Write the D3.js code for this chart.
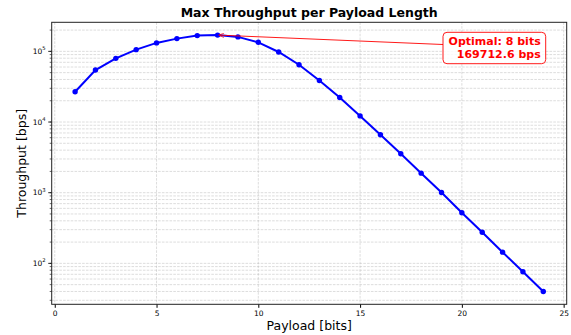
<!DOCTYPE html>
<html>
<head>
<meta charset="utf-8">
<script src="https://cdn.jsdelivr.net/npm/d3@7"></script>
<style>
  body { margin: 0; background: #fff; }
  svg { font-family: "DejaVu Sans", sans-serif; }
</style>
</head>
<body>
<svg id="chart" width="571" height="335"></svg>
<script>
// payload length in bits
const payloadBits = [1, 2, 3, 4, 5, 6, 7, 8, 9, 10, 11, 12, 13, 14, 15, 16, 17, 18, 19, 20, 21, 22, 23, 24];
// max throughput (bps)
const throughput = [26800, 54400, 79600, 105700, 131600, 151400, 167000, 169712.6, 160200, 134200,
  98000, 64700, 38700, 22200, 12200, 6620, 3560, 1890, 1007, 521, 275, 144, 76, 40];
const xTicks = [0, 5, 10, 15, 20, 25];
const yTickExps = [2, 3, 4, 5];
const optimalBits = 8;
const optimalValue = 169712.6;

const width = 571, height = 335;
const margin = { top: 22.3, right: 4.3, bottom: 30.7, left: 51.7 };
const svg = d3.select("#chart");

const data = payloadBits.map((b, i) => ({ x: b, y: throughput[i] }));

// matplotlib-like 5% margins
const xPad = (d3.max(payloadBits) - d3.min(payloadBits)) * 0.05;
const x = d3.scaleLinear()
  .domain([d3.min(payloadBits) - xPad, d3.max(payloadBits) + xPad])
  .range([margin.left, width - margin.right]);

const lmin = Math.log10(d3.min(throughput)), lmax = Math.log10(d3.max(throughput));
const lPad = (lmax - lmin) * 0.05;
const y = d3.scaleLog()
  .domain([Math.pow(10, lmin - lPad), Math.pow(10, lmax + lPad)])
  .range([height - margin.bottom, margin.top]);

const [y0, y1] = y.domain();
const minorTicks = [];
for (let e = Math.floor(Math.log10(y0)); e <= Math.ceil(Math.log10(y1)); e++) {
  for (let m = 1; m < 10; m++) {
    const v = m * Math.pow(10, e);
    if (v >= y0 && v <= y1) minorTicks.push(v);
  }
}

// grid
const grid = svg.append("g").attr("class", "grid")
  .attr("stroke", "#b0b0b0").attr("stroke-opacity", 0.55)
  .attr("stroke-width", 0.8).attr("stroke-dasharray", "2.6,1.2");
grid.selectAll("line.h").data(minorTicks).join("line")
  .attr("x1", margin.left).attr("x2", width - margin.right)
  .attr("y1", d => y(d)).attr("y2", d => y(d));
grid.selectAll("line.v").data(xTicks).join("line")
  .attr("y1", margin.top).attr("y2", height - margin.bottom)
  .attr("x1", d => x(d)).attr("x2", d => x(d));

// axes
const xAxis = svg.append("g")
  .attr("transform", `translate(0,${height - margin.bottom})`)
  .call(d3.axisBottom(x).tickValues(xTicks).tickSize(3.5).tickPadding(3).tickFormat(d3.format("d")));
xAxis.select(".domain").remove();
xAxis.selectAll("text").attr("font-size", 7.5).attr("fill", "#000").attr("font-family", "DejaVu Sans");

const yAxis = svg.append("g").attr("transform", `translate(${margin.left},0)`);
yAxis.selectAll("line.minor").data(minorTicks).join("line")
  .attr("x1", 0).attr("x2", -2).attr("y1", d => y(d)).attr("y2", d => y(d))
  .attr("stroke", "#000").attr("stroke-width", 0.6);
yAxis.selectAll("line.major").data(yTickExps).join("line")
  .attr("x1", 0).attr("x2", -3.5).attr("y1", d => y(Math.pow(10, d))).attr("y2", d => y(Math.pow(10, d)))
  .attr("stroke", "#000").attr("stroke-width", 0.8);
const yl = yAxis.selectAll("text.lab").data(yTickExps).join("text")
  .attr("x", -6).attr("y", d => y(Math.pow(10, d)) + 2.6)
  .attr("text-anchor", "end").attr("font-size", 7.5).attr("fill", "#000");
yl.append("tspan").text("10");
yl.append("tspan").attr("dy", -3.5).attr("font-size", 5.3).text(d => d);

// frame
svg.append("rect")
  .attr("x", margin.left).attr("y", margin.top)
  .attr("width", width - margin.left - margin.right)
  .attr("height", height - margin.top - margin.bottom)
  .attr("fill", "none").attr("stroke", "#222").attr("stroke-width", 1);

// line + markers
svg.append("path").datum(data)
  .attr("fill", "none").attr("stroke", "#0000ff").attr("stroke-width", 2)
  .attr("d", d3.line().x(d => x(d.x)).y(d => y(d.y)));
svg.append("g").selectAll("circle").data(data).join("circle")
  .attr("cx", d => x(d.x)).attr("cy", d => y(d.y)).attr("r", 2.7).attr("fill", "#0000ff");

// annotation
const px = x(optimalBits), py = y(optimalValue);
const boxX = 443, boxY = 32.3, boxW = 102.7, boxH = 31.4;
svg.append("defs").append("marker")
  .attr("id", "arr").attr("viewBox", "0 0 10 10").attr("refX", 10).attr("refY", 5)
  .attr("markerWidth", 6).attr("markerHeight", 6).attr("orient", "auto-start-reverse")
  .append("path").attr("d", "M0,1 L10,5 L0,9").attr("fill", "none").attr("stroke", "#ff0000").attr("stroke-width", 1.2);
svg.append("line")
  .attr("x1", boxX).attr("y1", boxY + boxH / 2 - 3.5)
  .attr("x2", px + 1).attr("y2", py)
  .attr("stroke", "#ff0000").attr("stroke-width", 0.9)
  .attr("marker-end", "url(#arr)");
svg.append("rect")
  .attr("x", boxX).attr("y", boxY).attr("width", boxW).attr("height", boxH)
  .attr("rx", 4).attr("fill", "#fff").attr("fill-opacity", 0.85)
  .attr("stroke", "#ff0000").attr("stroke-width", 0.9);
const ann = svg.append("text")
  .attr("text-anchor", "end").attr("font-size", 11).attr("font-weight", "bold").attr("fill", "#ff0000");
ann.append("tspan").attr("x", boxX + boxW - 5).attr("y", boxY + 13).text(`Optimal: ${optimalBits} bits`);
ann.append("tspan").attr("x", boxX + boxW - 5).attr("y", boxY + 26).text(`${optimalValue} bps`);

// title & labels
svg.append("text")
  .attr("x", (margin.left + width - margin.right) / 2).attr("y", 17)
  .attr("text-anchor", "middle").attr("font-size", 12.5).attr("font-weight", "bold")
  .text("Max Throughput per Payload Length");
svg.append("text")
  .attr("x", (margin.left + width - margin.right) / 2).attr("y", 330)
  .attr("text-anchor", "middle").attr("font-size", 12.5)
  .text("Payload [bits]");
svg.append("text")
  .attr("transform", `translate(26,${(margin.top + height - margin.bottom) / 2}) rotate(-90)`)
  .attr("text-anchor", "middle").attr("font-size", 12.5)
  .text("Throughput [bps]");
</script>
</body>
</html>
